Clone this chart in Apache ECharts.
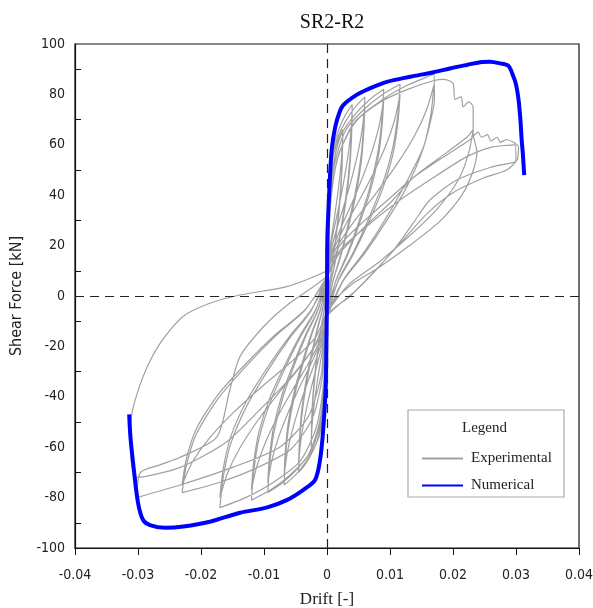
<!DOCTYPE html>
<html>
<head>
<meta charset="utf-8">
<script src="https://cdn.jsdelivr.net/npm/echarts@6/dist/echarts.min.js"></script>
<style>html,body{margin:0;padding:0;background:#fff}#c{width:593px;height:608px}</style>
</head>
<body>
<div id="c"></div>
<script>
// ---- Data (drift [-], shear force [kN]) ----
const chartTitle = 'SR2-R2';
const seriesNames = ['Experimental', 'Numerical'];

const numerical = [
  [0.0313,48],[0.0311,56],[0.0309,62],[0.0307,70],[0.0304,78],[0.0300,84],[0.0296,87],[0.0288,91.3],
  [0.0275,92.3],[0.0259,93],[0.0246,92.9],[0.0222,91.7],[0.0195,90.3],[0.0169,88.8],[0.0132,87],
  [0.0095,85],[0.0068,82.4],[0.0047,79.8],[0.0026,75.8],[0.0020,73],[0.0013,67],[0.00074,58],
  [0.00037,42],[0.00005,22],[0,1],[-0.0001,-20],[-0.0002,-36],[-0.0006,-53],[-0.0011,-65],
  [-0.0019,-73],[-0.0038,-77],[-0.0064,-81],[-0.0096,-84],[-0.0138,-86],[-0.0186,-89.6],
  [-0.0228,-91.5],[-0.0257,-92],[-0.0281,-90.9],[-0.0292,-88.9],[-0.0300,-82],[-0.0307,-68],
  [-0.0312,-56],[-0.0314,-47]
];

const cycle01 = [
  [0,0],[0.000075,26.4],[0.00025,40.9],[0.000625,51.5],[0.00125,58.1],[0.001875,62.7],[0.0025,66],
  [0.002425,56.8],[0.00225,46.2],[0.001875,34.3],[0.001375,23.1],[0.000875,13.2],[0.000375,4.6],[0,-6.6],
  [-0.000075,-24],[-0.00025,-37.2],[-0.000625,-46.8],[-0.00125,-52.8],[-0.001875,-57],[-0.0025,-60],
  [-0.002425,-51.6],[-0.00225,-42],[-0.001875,-31.2],[-0.001375,-21],[-0.000875,-12],[-0.000375,-4.2],[0,6]
];
const cycle02 = [
  [0.0002,13.9],[0.000625,22.1],[0.001125,30.2],[0.001625,39.1],[0.00205,47.9],[0.002325,55.4],[0.0025,63],
  [0.002425,54.2],[0.00225,44.1],[0.001875,32.8],[0.001375,22.1],[0.000875,12.6],[0.000375,4.4],[0,-6.3],
  [-0.0002,-12.5],[-0.000625,-20],[-0.001125,-27.4],[-0.001625,-35.3],[-0.00205,-43.3],[-0.002325,-50.2],[-0.0025,-57],
  [-0.002425,-49],[-0.00225,-39.9],[-0.001875,-29.6],[-0.001375,-20],[-0.000875,-11.4],[-0.000375,-4],[0,5.7]
];
const cycle03 = [
  [0.00012,30.4],[0.0004,47.1],[0.001,59.3],[0.002,66.9],[0.003,72.2],[0.004,76],
  [0.00388,65.4],[0.0036,53.2],[0.003,39.5],[0.0022,26.6],[0.0014,15.2],[0.0006,5.3],[0,-7.6],
  [-0.000135,-28],[-0.00045,-43.4],[-0.001125,-54.6],[-0.00225,-61.6],[-0.003375,-66.5],[-0.0045,-70],
  [-0.004365,-60.2],[-0.00405,-49],[-0.003375,-36.4],[-0.002475,-24.5],[-0.001575,-14],[-0.000675,-4.9],[0,7]
];
const cycle04 = [
  [0.00032,15.8],[0.001,25.2],[0.0018,34.6],[0.0026,44.6],[0.00328,54.7],[0.00372,63.4],[0.004,72],
  [0.00388,61.9],[0.0036,50.4],[0.003,37.4],[0.0022,25.2],[0.0014,14.4],[0.0006,5],[0,-7.2],
  [-0.00036,-14.5],[-0.001125,-23.1],[-0.002025,-31.7],[-0.002925,-40.9],[-0.00369,-50.2],[-0.004185,-58.1],[-0.0045,-66],
  [-0.004365,-56.8],[-0.00405,-46.2],[-0.003375,-34.3],[-0.002475,-23.1],[-0.001575,-13.2],[-0.000675,-4.6],[0,6.6]
];
const cycle05 = [
  [0.00018,31.6],[0.0006,49],[0.0015,61.6],[0.003,69.5],[0.0045,75],[0.006,79],
  [0.00582,67.9],[0.0054,55.3],[0.0045,41.1],[0.0033,27.7],[0.0021,15.8],[0.0009,5.5],[0,-7.9],
  [-0.000204,-30],[-0.00068,-46.5],[-0.0017,-58.5],[-0.0034,-66],[-0.0051,-71.3],[-0.0068,-75],
  [-0.0066,-64.5],[-0.00612,-52.5],[-0.0051,-39],[-0.00374,-26.3],[-0.00238,-15],[-0.00102,-5.3],[0,7.5]
];
const cycle06 = [
  [0.00048,16.5],[0.0015,26.3],[0.0027,36],[0.0039,46.5],[0.00492,57],[0.00558,66],[0.006,75],
  [0.00582,64.5],[0.0054,52.5],[0.0045,39],[0.0033,26.3],[0.0021,15],[0.0009,5.3],[0,-7.5],
  [-0.000544,-15.6],[-0.0017,-24.9],[-0.00306,-34.1],[-0.00442,-44],[-0.005576,-54],[-0.006324,-62.5],[-0.0068,-71],
  [-0.0066,-61.1],[-0.00612,-49.7],[-0.0051,-36.9],[-0.00374,-24.9],[-0.00238,-14.2],[-0.00102,-5],[0,7.1]
];
const cycle07 = [
  [0.00027,32.8],[0.0009,50.8],[0.00225,64],[0.0045,72.2],[0.00675,77.9],[0.009,82],
  [0.00873,70.5],[0.0081,57.4],[0.00675,42.6],[0.00495,28.7],[0.00315,16.4],[0.00135,5.7],[0,-8.2],
  [-0.000282,-31.2],[-0.00094,-48.4],[-0.00235,-60.8],[-0.0047,-68.6],[-0.00705,-74.1],[-0.0094,-78],
  [-0.00912,-67.1],[-0.00846,-54.6],[-0.00705,-40.6],[-0.00517,-27.3],[-0.00329,-15.6],[-0.00141,-5.5],[0,7.8]
];
const cycle08 = [
  [0.00072,17.2],[0.00225,27.3],[0.00405,37.4],[0.00585,48.4],[0.00738,59.3],[0.00837,68.6],[0.009,78],
  [0.00873,67.1],[0.0081,54.6],[0.00675,40.6],[0.00495,27.3],[0.00315,15.6],[0.00135,5.5],[0,-7.8],
  [-0.000752,-16.3],[-0.00235,-25.9],[-0.00423,-35.5],[-0.00611,-45.9],[-0.007708,-56.2],[-0.008742,-65.1],[-0.0094,-74],
  [-0.00912,-63.6],[-0.00846,-51.8],[-0.00705,-38.5],[-0.00517,-25.9],[-0.00329,-14.8],[-0.00141,-5.2],[0,7.4]
];
const cycle09 = [
  [0.00035,33.6],[0.00116,52.1],[0.0029,65.5],[0.0058,73.9],[0.0087,79.8],[0.0116,84],
  [0.01125,72.2],[0.01044,58.8],[0.0087,43.7],[0.00638,29.4],[0.00406,16.8],[0.00174,5.9],[0,-8.4],
  [-0.00036,-32.4],[-0.0012,-50.2],[-0.003,-63.2],[-0.006,-71.3],[-0.009,-77],[-0.012,-81],
  [-0.01164,-69.7],[-0.0108,-56.7],[-0.009,-42.1],[-0.0066,-28.4],[-0.0042,-16.2],[-0.0018,-5.7],[0,8.1]
];
const cycle10 = [
  [0.00093,17.6],[0.0029,28],[0.00522,38.4],[0.00754,49.6],[0.00951,60.8],[0.01079,70.4],[0.0116,80],
  [0.01125,68.8],[0.01044,56],[0.0087,41.6],[0.00638,28],[0.00406,16],[0.00174,5.6],[0,-8],
  [-0.00096,-16.9],[-0.003,-27],[-0.0054,-37],[-0.0078,-47.7],[-0.00984,-58.5],[-0.01116,-67.8],[-0.012,-77],
  [-0.01164,-66.2],[-0.0108,-53.9],[-0.009,-40],[-0.0066,-27],[-0.0042,-15.4],[-0.0018,-5.4],[0,7.7]
];
const cycle11 = [
  [0.00051,35.2],[0.0017,54.6],[0.00425,68.6],[0.0085,77.4],[0.01275,83.6],[0.017,88],
  [0.01705,78],[0.01649,70],[0.0153,59],[0.01275,45.8],[0.00935,30.8],[0.00595,17.6],[0.00255,6.2],[0,-8.8],
  [-0.00051,-33.6],[-0.0017,-52.1],[-0.00425,-65.5],[-0.0085,-73.9],[-0.01275,-79.8],[-0.017,-84],
  [-0.01649,-72.2],[-0.0153,-58.8],[-0.01275,-43.7],[-0.00935,-29.4],[-0.00595,-16.8],[-0.00255,-5.9],[0,8.4]
];
const cycle12 = [
  [0.00136,18.5],[0.00425,29.4],[0.00765,40.3],[0.01105,52.1],[0.01394,63.8],[0.01581,73.9],[0.017,84],
  [0.01649,72.2],[0.0153,58.8],[0.01275,43.7],[0.00935,29.4],[0.00595,16.8],[0.00255,5.9],[0,-8.4],
  [-0.00136,-17.6],[-0.00425,-28],[-0.00765,-38.4],[-0.01105,-49.6],[-0.01394,-60.8],[-0.01581,-70.4],[-0.017,-80],
  [-0.01649,-68.8],[-0.0153,-56],[-0.01275,-41.6],[-0.00935,-28],[-0.00595,-16],[-0.00255,-5.6],[0,8]
];
const cycle13 = [
  [0.0005,35],[0.0017,55],[0.0045,69],[0.0085,77],[0.0128,82],[0.017,85.5],[0.0185,86],[0.020,84.5],
  [0.0203,78],[0.0213,79],[0.0216,75],[0.0225,77],[0.0232,75],[0.0232,64.5],[0.0238,57],
  [0.0231,49],[0.0214,40],[0.0179,29.6],[0.0131,20],[0.0083,11.4],[0.0036,4],[0,-5.7],
  [-0.00069,-31.2],[-0.0023,-48.4],[-0.00575,-60.8],[-0.0115,-68.6],[-0.01725,-74.1],[-0.023,-78],
  [-0.02231,-67.1],[-0.0207,-54.6],[-0.01725,-40.6],[-0.01265,-27.3],[-0.00805,-15.6],[-0.00345,-5.5],[0,7.8]
];
const cycle14 = [
  [0.00186,16.5],[0.0058,27],[0.01044,38],[0.0137,47],[0.01902,57],[0.0222,63],[0.0232,66],
  [0.0225,56.8],[0.02088,46.2],[0.0174,34.3],[0.01276,23.1],[0.00812,13.2],[0.00348,4.6],[0,-6.6],
  [-0.00184,-16.5],[-0.00575,-26.3],[-0.01035,-36],[-0.01495,-46.5],[-0.01886,-57],[-0.02139,-66],[-0.023,-75],
  [-0.02231,-64.5],[-0.0207,-52.5],[-0.01725,-39],[-0.01265,-26.3],[-0.00805,-15],[-0.00345,-5.3],[0,7.5]
];
const cycle15 = [
  [0.002,20],[0.006,30],[0.0105,40],[0.0137,47],[0.019,56],[0.0227,62],[0.024,65],[0.0245,63],
  [0.0255,64],[0.026,61.5],[0.027,63],[0.0275,61],[0.0285,62],[0.0296,61],[0.0304,59],
  [0.0302,54],[0.0296,53],[0.0259,51],[0.0206,46],[0.0163,38],[0.0137,29],[0.011,19.6],[0.0073,9],[0.0037,0],[0,-8],
  [-0.0009,-31],[-0.003,-48],[-0.0075,-60],[-0.015,-68],[-0.0233,-75],[-0.0302,-80],
  [-0.0296,-70],[-0.0265,-67],[-0.0233,-64],[-0.0175,-56],[-0.0154,-37],[-0.0138,-24],[-0.010,-12],[-0.006,-3],[0,8]
];
const cycle16 = [
  [0.002,18],[0.006,27],[0.011,37],[0.0163,46],[0.022,55],[0.026,59],[0.0298,60],
  [0.0300,54],[0.0285,50],[0.025,47],[0.020,41],[0.016,33],[0.012,22],[0.008,11],[0.0045,2],[0,-8],
  [-0.002,-20],[-0.006,-33],[-0.011,-46],[-0.016,-58],[-0.0233,-68],[-0.0302,-72],
  [-0.0312,-60],[-0.031,-47],[-0.0292,-32],[-0.0265,-18.8],[-0.0229,-8.2],[-0.0186,-2.9],
  [-0.0138,0.4],[-0.0064,3.7],[0,10],[0.001,13]
];

const experimental = [].concat(cycle01, cycle02, cycle03, cycle04, cycle05, cycle06, cycle07, cycle08,
  cycle09, cycle10, cycle11, cycle12, cycle13, cycle14, cycle15, cycle16);

// ---- Chart ----
const chart = echarts.init(document.getElementById('c'), null, { renderer: 'canvas' });
const tickFont = "'Liberation Sans Narrow','DejaVu Sans Condensed','Liberation Sans',sans-serif";
const serif = "'Liberation Serif','DejaVu Serif',serif";

chart.setOption({
  animation: false,
  backgroundColor: '#fff',
  title: {
    text: chartTitle, left: 327, top: 8, textAlign: 'center',
    textStyle: { fontFamily: serif, fontSize: 20, fontWeight: 'normal', color: '#111' }
  },
  grid: {
    left: 75, right: 14, top: 44, bottom: 60, outerBoundsMode: 'none', containLabel: false,
    show: true, borderColor: '#111', borderWidth: 1.2, backgroundColor: 'transparent'
  },
  xAxis: {
    type: 'value', min: -0.04, max: 0.04, interval: 0.01,
    name: 'Drift [-]', nameLocation: 'middle', nameGap: 43,
    nameTextStyle: { fontFamily: serif, fontSize: 17, color: '#222' },
    axisLine: { onZero: false, lineStyle: { color: '#111', width: 1.2 } },
    axisTick: { show: true, inside: false, length: 7, lineStyle: { color: '#111' } },
    axisLabel: {
      margin: 20, fontFamily: tickFont, fontSize: 14, color: '#222',
      formatter: v => Math.abs(v) < 1e-9 ? '0' : v.toFixed(2)
    },
    splitLine: { show: false }
  },
  yAxis: {
    type: 'value', min: -100, max: 100, interval: 20,
    name: 'Shear Force [kN]', nameLocation: 'middle', nameGap: 50, nameRotate: 90,
    nameTextStyle: { fontFamily: tickFont, fontSize: 16, color: '#222' },
    axisLine: { onZero: false, lineStyle: { color: '#111', width: 1.2 } },
    axisTick: { show: false, inside: true },
    minorTick: { show: true, splitNumber: 2, length: 6, lineStyle: { color: '#111', width: 1 } },
    axisLabel: { margin: 10, fontFamily: tickFont, fontSize: 14, color: '#222' },
    splitLine: { show: false }
  },
  legend: {
    z: 20, orient: 'vertical', left: 416, top: 446, itemWidth: 41, itemHeight: 12, itemGap: 12,
    itemStyle: { opacity: 0 },
    textStyle: { fontFamily: serif, fontSize: 15, color: '#222', padding: [0, 0, 0, 3] },
    data: seriesNames,
    selectedMode: false
  },
  graphic: [
    { type: 'rect', z: 10, shape: { x: 408, y: 410, width: 156, height: 87 },
      style: { fill: '#fff', stroke: '#aaa', lineWidth: 1.2 } },
    { type: 'text', z: 11, left: 462, top: 421,
      style: { text: 'Legend', fontFamily: serif, fontSize: 15, fill: '#222' } }
  ],
  series: [
    {
      name: seriesNames[0], type: 'line', data: experimental, showSymbol: false, symbol: 'none',
      smooth: 0.25, lineStyle: { color: '#a0a0a0', width: 1.2 }, itemStyle: { color: '#a0a0a0' }, z: 2,
      markLine: {
        silent: true, symbol: 'none', label: { show: false },
        lineStyle: { color: '#222', type: [9, 6], width: 1.2 },
        data: [{ xAxis: 0 }, { yAxis: 0 }]
      }
    },
    {
      name: seriesNames[1], type: 'line', data: numerical, showSymbol: false, symbol: 'none',
      smooth: 0.3, lineStyle: { color: '#0000ff', width: 4 }, itemStyle: { color: '#0000ff' }, z: 3
    }
  ]
});
</script>
</body>
</html>
